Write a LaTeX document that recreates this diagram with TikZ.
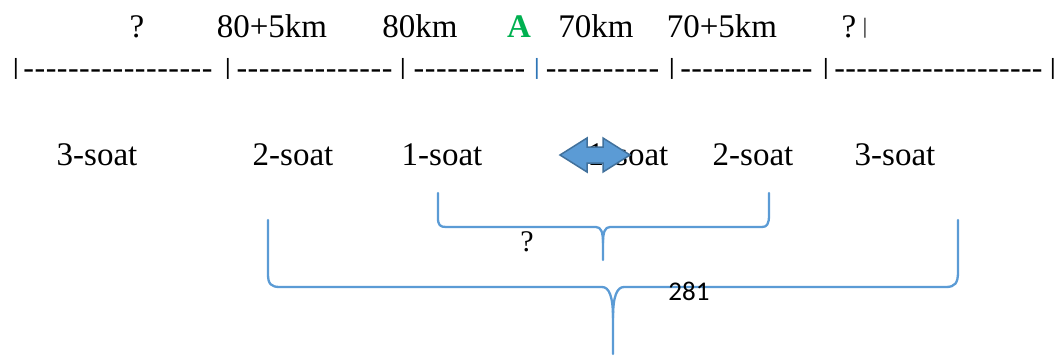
\documentclass[tikz,border=0pt]{standalone}
\usepackage{fontspec}
\setmainfont{Liberation Serif}
\newfontfamily\labelsans{Carlito}
\newfontfamily\tickfont{DejaVu Sans}
\definecolor{braceblue}{HTML}{5B9BD5}
\definecolor{arrowedge}{HTML}{41719C}
\definecolor{markblue}{HTML}{2E75B6}
\definecolor{agreen}{HTML}{00B050}
% a run of hyphens filling an exact width
\newcommand{\dashrun}[1]{\hbox to #1pt{\xleaders\hbox{-}\hfill}}
\begin{document}
\begin{tikzpicture}[x=1pt,y=-1pt,
  every node/.style={inner sep=0pt,outer sep=0pt},
  toplabel/.style={anchor=base,font=\fontsize{33}{36}\selectfont},
  hourlabel/.style={anchor=base,font=\fontsize{33}{36}\selectfont},
  tick/.style={anchor=base,font=\tickfont\fontsize{21}{24}\selectfont},
  dashes/.style={anchor=base west,font=\fontsize{32}{34}\selectfont},
  bracepath/.style={draw=braceblue,line width=2.3pt,line cap=round,line join=round},
  dblarrow/.style={fill=braceblue,draw=arrowedge,line width=1.5pt,line join=miter}]
\useasboundingbox (0,0) rectangle (1063,360);

% distance labels above the scale
\node[toplabel] (q1) at (137,37) {?};
\node[toplabel] (l85) at (272,37) {80+5km};
\node[toplabel] (l80) at (420,37) {80km};
\node[toplabel,text=agreen,font=\fontsize{33}{36}\selectfont\bfseries] (pa) at (519,37) {A};
\node[toplabel] (l70) at (596,37) {70km};
\node[toplabel] (l75) at (722,37) {70+5km};
\node[toplabel] (q2) at (849,37) {?};
\node[tick,text=black!65,font=\tickfont\fontsize{20}{22}\selectfont] (qbar) at (865,33) {|};

% the scale: ticks and dashed runs
\node[tick] (b1) at (16,74) {|};
\node[tick] (b2) at (228,74) {|};
\node[tick] (b3) at (403,74) {|};
\node[tick,text=markblue] (b4) at (537,74) {|};
\node[tick] (b5) at (672,74) {|};
\node[tick] (b6) at (826,74) {|};
\node[tick] (b7) at (1053,74) {|};
\node[dashes] (d1) at (23,78) {\dashrun{190}};
\node[dashes] (d2) at (236,78) {\dashrun{157}};
\node[dashes] (d3) at (413,78) {\dashrun{113}};
\node[dashes] (d4) at (545,78) {\dashrun{115}};
\node[dashes] (d5) at (680,78) {\dashrun{133}};
\node[dashes] (d6) at (834,78) {\dashrun{209}};

% hour labels
\node[hourlabel] (h3l) at (97,165) {3-soat};
\node[hourlabel] (h2l) at (293,165) {2-soat};
\node[hourlabel] (h1l) at (442,165) {1-soat};
\node[hourlabel] (h1r) at (628,165) {1-soat};
\node[hourlabel] (h2r) at (753,165) {2-soat};
\node[hourlabel] (h3r) at (895,165) {3-soat};

% double-headed block arrow
\draw[dblarrow] (560,155) -- (587,138) -- (587,147) -- (603,147) -- (603,138)
  -- (630,155) -- (603,172) -- (603,163) -- (587,163) -- (587,172) -- cycle;

% inner brace (1-soat to 2-soat)
\draw[bracepath] (438,193) -- (438,218) .. controls (438,225) and (440,227) .. (446,227)
  -- (596,227) .. controls (601,227) and (603,232) .. (603,243) -- (603,260);
\draw[bracepath] (603,243) .. controls (603,232) and (605,227) .. (610,227)
  -- (762,227) .. controls (767,227) and (769,224) .. (769,215) -- (769,193);

% outer brace (2-soat to 3-soat)
\draw[bracepath] (268,220) -- (268,274) .. controls (268,284) and (271,287) .. (280,287)
  -- (602,287) .. controls (609,287) and (613,296) .. (613,318) -- (613,354);
\draw[bracepath] (613,318) .. controls (613,296) and (617,287) .. (624,287)
  -- (946,287) .. controls (955,287) and (958,283) .. (958,272) -- (958,220);

% brace labels
\node[font=\fontsize{30}{32}\selectfont] (qin) at (527,242) {?};
\node[font=\labelsans\fontsize{27}{29}\selectfont] (total) at (689,291) {281};
\end{tikzpicture}
\end{document}
